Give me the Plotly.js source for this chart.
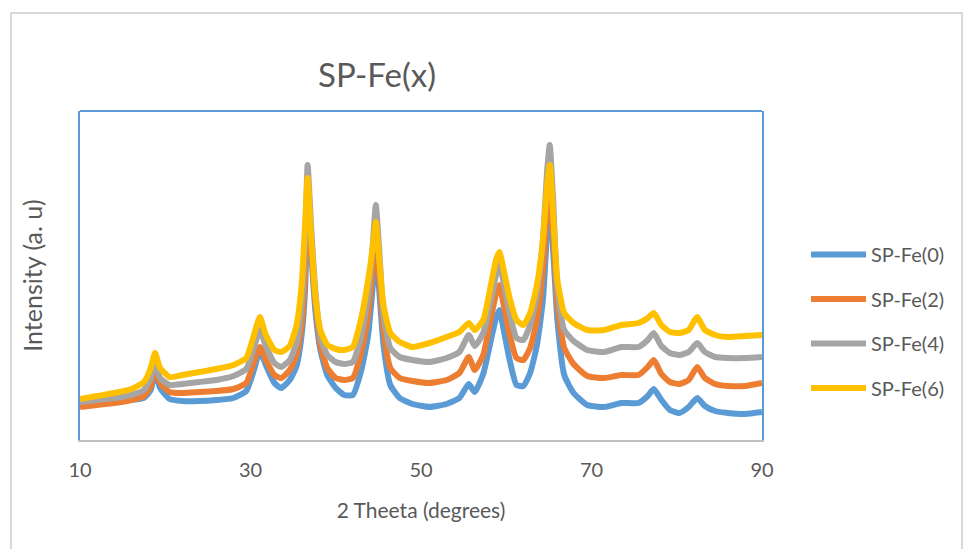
<!DOCTYPE html>
<html>
<head>
<meta charset="utf-8">
<script src="https://cdn.plot.ly/plotly-3.0.1.min.js"></script>
<style>
  html, body { margin: 0; padding: 0; background: #ffffff; }
  #chart { width: 963px; height: 549px; }
</style>
</head>
<body>
<div id="chart"></div>
<script>
// 2-theta positions (degrees)
const twoTheta = [10, 12, 14, 16, 17.5, 18.3, 18.8, 19.4, 20.5, 22, 24, 26, 28, 29.5, 30.4, 31.1, 31.8, 32.8, 33.6, 34.6, 35.4, 36, 36.4, 36.7, 37.1, 37.6, 38.2, 39, 40, 41, 42, 43, 43.8, 44.3, 44.7, 45.1, 45.6, 46.4, 47.5, 49, 51, 53, 54.5, 55.6, 56.3, 57.3, 58.2, 58.8, 59.2, 59.7, 60.4, 61.2, 62, 62.8, 63.6, 64.3, 64.8, 65.1, 65.5, 66, 66.8, 67.9, 69.5, 71.5, 73.5, 75.5, 76.6, 77.3, 78.2, 79.2, 80.3, 81.4, 82.4, 83.3, 84.5, 86, 88, 90];

// Intensity (arbitrary units)
const spFe0 = [36, 37, 39, 40, 42, 50, 68, 52, 41, 39, 39, 40, 42, 49, 70, 89, 75, 57, 52, 60, 74, 105, 150, 235, 190, 130, 90, 65, 52, 45, 45, 70, 105, 150, 190, 150, 95, 55, 42, 36, 33, 36, 42, 56, 48, 66, 100, 122, 130, 110, 80, 55, 54, 67, 95, 140, 210, 240, 190, 120, 65, 47, 35, 33, 37, 37, 44, 51, 40, 30, 27, 33, 42, 34, 29, 27, 26, 28];
const spFe2 = [33, 35, 37, 40, 44, 54, 72, 57, 48, 47, 48, 49, 51, 57, 78, 93, 80, 65, 62, 70, 85, 115, 165, 240, 195, 140, 95, 72, 62, 60, 62, 88, 125, 165, 200, 165, 110, 72, 62, 59, 57, 60, 67, 83, 70, 85, 122, 146, 155, 135, 105, 82, 80, 92, 120, 170, 230, 260, 210, 135, 92, 76, 64, 62, 65, 65, 73, 80, 66, 58, 56, 60, 73, 62, 56, 54, 54, 57];
const spFe4 = [38, 40, 42, 45, 50, 62, 78, 62, 55, 56, 58, 60, 64, 71, 92, 110, 94, 77, 73, 80, 97, 135, 195, 275, 215, 150, 103, 85, 78, 76, 78, 104, 145, 190, 235, 190, 125, 92, 83, 80, 78, 82, 88, 105, 94, 107, 140, 165, 177, 157, 127, 102, 100, 115, 145, 200, 270, 295, 240, 150, 110, 99, 90, 88, 93, 93, 100, 107, 94, 87, 85, 88, 97, 88, 83, 82, 82, 83];
const spFe6 = [41, 44, 47, 51, 58, 72, 87, 72, 63, 65, 68, 71, 75, 82, 105, 123, 105, 90, 88, 94, 115, 155, 215, 262, 205, 145, 110, 95, 91, 90, 93, 122, 160, 190, 218, 180, 135, 107, 98, 93, 97, 103, 108, 117, 110, 120, 155, 180, 188, 170, 142, 120, 115, 127, 155, 200, 255, 275, 225, 160, 127, 117, 110, 110, 115, 117, 122, 127, 115, 108, 107, 110, 123, 110, 105, 103, 104, 105];

const seriesNames = ["SP-Fe(0)", "SP-Fe(2)", "SP-Fe(4)", "SP-Fe(6)"];
const seriesColors = ["#5b9bd5", "#ed7d31", "#a5a5a5", "#ffc000"];
const seriesValues = [spFe0, spFe2, spFe4, spFe6];
const xTicks = [10, 30, 50, 70, 90];

const traces = seriesValues.map((vals, i) => ({
  type: "scatter",
  mode: "lines",
  x: twoTheta,
  y: vals,
  name: seriesNames[i],
  legendgroup: "g" + i,
  line: { color: seriesColors[i], width: 6, shape: "spline", smoothing: 0.5 },
  hoverinfo: "x+y+name"
}));

const textColor = "#595959";
const layout = {
  width: 963,
  height: 549,
  paper_bgcolor: "#ffffff",
  plot_bgcolor: "#ffffff",
  font: { family: "Lato, 'Open Sans', sans-serif", color: textColor, size: 20 },
  margin: { l: 80, r: 201, t: 111, b: 109, pad: 0 },
  title: {
    text: "SP-Fe(x)",
    font: { size: 33, color: textColor },
    xref: "container", x: 377 / 963, xanchor: "center",
    yref: "container", y: 1 - 75 / 549, yanchor: "middle"
  },
  xaxis: {
    range: [10, 90],
    tickvals: xTicks,
    ticktext: xTicks.map(String),
    showgrid: false,
    zeroline: false,
    showline: true,
    linecolor: "#bfbfbf",
    linewidth: 2,
    ticks: "",
    ticklen: 0,
    ticklabelstandoff: 11,
    tickfont: { size: 20, color: textColor },
    title: { text: "2 Theeta (degrees)", font: { size: 21, color: textColor }, standoff: 23 }
  },
  yaxis: {
    range: [0, 329],
    showticklabels: false,
    showgrid: false,
    zeroline: false,
    showline: true,
    linecolor: "#5b9bd5",
    linewidth: 2,
    mirror: true,
    ticks: "",
    title: { text: "Intensity (a. u)", font: { size: 25, color: textColor }, standoff: 28 }
  },
  shapes: [
    { type: "line", xref: "paper", yref: "paper", x0: 0, x1: 1, y0: 1, y1: 1,
      line: { color: "#5b9bd5", width: 2 } },
    { type: "rect", xref: "paper", yref: "paper",
      x0: (11 - 80) / 682, x1: (962 - 80) / 682,
      y0: (440 - 560) / 329, y1: (440 - 13) / 329,
      line: { color: "#d9d9d9", width: 2 }, fillcolor: "rgba(0,0,0,0)", layer: "below" }
  ],
  showlegend: true,
  legend: {
    x: (806 - 80) / 682, xanchor: "left",
    y: (440 - 235) / 329, yanchor: "top",
    traceorder: "grouped",
    tracegroupgap: 15.5,
    font: { size: 20, color: textColor },
    bgcolor: "rgba(0,0,0,0)",
    itemwidth: 55
  }
};

Plotly.newPlot("chart", traces, layout, { displayModeBar: false, staticPlot: true });
</script>
</body>
</html>
